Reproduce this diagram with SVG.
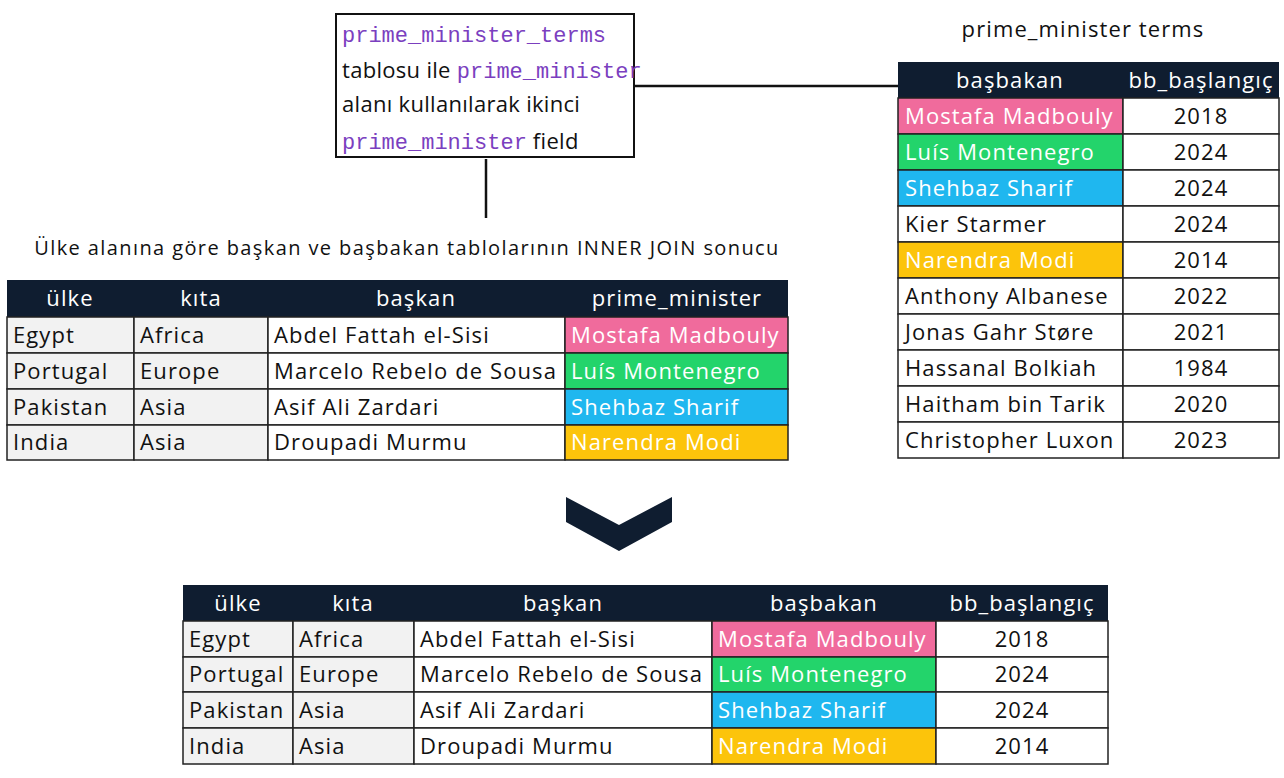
<svg xmlns="http://www.w3.org/2000/svg" width="1284" height="778" viewBox="0 0 1284 778">
<style>
text{font-family:"Open Sans","DejaVu Sans",sans-serif;font-size:22px;letter-spacing:1.1px;fill:#111}
.h{fill:#fff;text-anchor:middle}
.c{text-anchor:middle}
.w{fill:#fff}
.m{font-family:"Liberation Mono",monospace;fill:#7b3fbf;font-size:22px;letter-spacing:0}
.hd{fill:#0f1d30}
.cell{fill:#fff;stroke:#222;stroke-width:1.5}
.g{fill:#f2f2f2;stroke:#222;stroke-width:1.5}
.pk{fill:#f06b9c;stroke:#222;stroke-width:1.5}
.gr{fill:#23d46b;stroke:#222;stroke-width:1.5}
.bl{fill:#1fb7ef;stroke:#222;stroke-width:1.5}
.yl{fill:#fcc40b;stroke:#222;stroke-width:1.5}
</style>
<rect width="1284" height="778" fill="#fff"/>
<g id="connectors" stroke="#111" stroke-width="2.5">
<line x1="634" y1="86" x2="898" y2="86"/>
<line x1="486" y1="159" x2="486" y2="218"/>
</g>
<g id="note">
<rect x="336" y="14" width="298" height="143" fill="#fff" stroke="#111" stroke-width="2"/>
<text x="342" y="42" class="m">prime_minister_terms</text>
<text x="342" y="78" style="letter-spacing:0.3px">tablosu ile <tspan class="m">prime_minister</tspan></text>
<text x="342" y="112" style="letter-spacing:0.3px">alanı kullanılarak ikinci</text>
<text x="342" y="149" style="letter-spacing:0.3px"><tspan class="m">prime_minister</tspan> field</text>
</g>
<g id="left-table">
<text x="407" y="255" class="c" style="font-size:20px;letter-spacing:1.4px">Ülke alanına göre başkan ve başbakan tablolarının INNER JOIN sonucu</text>
<rect x="7" y="280" width="781" height="37" class="hd"/>
<text x="70" y="306" class="h">ülke</text><text x="201" y="306" class="h">kıta</text><text x="416" y="306" class="h">başkan</text><text x="677" y="306" class="h">prime_minister</text>
<g>
<rect x="7" y="317" width="127" height="36" class="g"/><rect x="134" y="317" width="134" height="36" class="g"/><rect x="268" y="317" width="297" height="36" class="cell"/><rect x="565" y="317" width="223" height="36" class="pk"/>
<rect x="7" y="353" width="127" height="36" class="g"/><rect x="134" y="353" width="134" height="36" class="g"/><rect x="268" y="353" width="297" height="36" class="cell"/><rect x="565" y="353" width="223" height="36" class="gr"/>
<rect x="7" y="389" width="127" height="36" class="g"/><rect x="134" y="389" width="134" height="36" class="g"/><rect x="268" y="389" width="297" height="36" class="cell"/><rect x="565" y="389" width="223" height="36" class="bl"/>
<rect x="7" y="425" width="127" height="35" class="g"/><rect x="134" y="425" width="134" height="35" class="g"/><rect x="268" y="425" width="297" height="35" class="cell"/><rect x="565" y="425" width="223" height="35" class="yl"/>
</g>
<text x="13" y="343">Egypt</text><text x="140" y="343">Africa</text><text x="274" y="343">Abdel Fattah el-Sisi</text><text x="571" y="343" class="w">Mostafa Madbouly</text>
<text x="13" y="379">Portugal</text><text x="140" y="379">Europe</text><text x="274" y="379">Marcelo Rebelo de Sousa</text><text x="571" y="379" class="w">Luís Montenegro</text>
<text x="13" y="415">Pakistan</text><text x="140" y="415">Asia</text><text x="274" y="415">Asif Ali Zardari</text><text x="571" y="415" class="w">Shehbaz Sharif</text>
<text x="13" y="450">India</text><text x="140" y="450">Asia</text><text x="274" y="450">Droupadi Murmu</text><text x="571" y="450" class="w">Narendra Modi</text>
</g>
<g id="right-table">
<text x="1083" y="37" class="c">prime_minister terms</text>
<rect x="898" y="62" width="381" height="36" class="hd"/>
<text x="1010" y="88" class="h">başbakan</text><text x="1201" y="88" class="h">bb_başlangıç</text>
<rect x="898" y="98" width="225" height="36" class="pk"/><rect x="1123" y="98" width="156" height="36" class="cell"/>
<rect x="898" y="134" width="225" height="36" class="gr"/><rect x="1123" y="134" width="156" height="36" class="cell"/>
<rect x="898" y="170" width="225" height="36" class="bl"/><rect x="1123" y="170" width="156" height="36" class="cell"/>
<rect x="898" y="206" width="225" height="36" class="cell"/><rect x="1123" y="206" width="156" height="36" class="cell"/>
<rect x="898" y="242" width="225" height="36" class="yl"/><rect x="1123" y="242" width="156" height="36" class="cell"/>
<rect x="898" y="278" width="225" height="36" class="cell"/><rect x="1123" y="278" width="156" height="36" class="cell"/>
<rect x="898" y="314" width="225" height="36" class="cell"/><rect x="1123" y="314" width="156" height="36" class="cell"/>
<rect x="898" y="350" width="225" height="36" class="cell"/><rect x="1123" y="350" width="156" height="36" class="cell"/>
<rect x="898" y="386" width="225" height="36" class="cell"/><rect x="1123" y="386" width="156" height="36" class="cell"/>
<rect x="898" y="422" width="225" height="36" class="cell"/><rect x="1123" y="422" width="156" height="36" class="cell"/>
<text x="905" y="124" class="w">Mostafa Madbouly</text><text x="1201" y="124" class="c">2018</text>
<text x="905" y="160" class="w">Luís Montenegro</text><text x="1201" y="160" class="c">2024</text>
<text x="905" y="196" class="w">Shehbaz Sharif</text><text x="1201" y="196" class="c">2024</text>
<text x="905" y="232">Kier Starmer</text><text x="1201" y="232" class="c">2024</text>
<text x="905" y="268" class="w">Narendra Modi</text><text x="1201" y="268" class="c">2014</text>
<text x="905" y="304">Anthony Albanese</text><text x="1201" y="304" class="c">2022</text>
<text x="905" y="340">Jonas Gahr Støre</text><text x="1201" y="340" class="c">2021</text>
<text x="905" y="376">Hassanal Bolkiah</text><text x="1201" y="376" class="c">1984</text>
<text x="905" y="412">Haitham bin Tarik</text><text x="1201" y="412" class="c">2020</text>
<text x="905" y="448">Christopher Luxon</text><text x="1201" y="448" class="c">2023</text>
</g>
<g id="chevron">
<polygon points="566,497 619,525 672,497 672,522 619,551 566,522" fill="#0f1d30"/>
</g>
<g id="result-table">
<rect x="183" y="585" width="925" height="36" class="hd"/>
<text x="238" y="611" class="h">ülke</text><text x="353" y="611" class="h">kıta</text><text x="563" y="611" class="h">başkan</text><text x="824" y="611" class="h">başbakan</text><text x="1022" y="611" class="h">bb_başlangıç</text>
<rect x="183" y="621" width="110" height="36" class="g"/><rect x="293" y="621" width="121" height="36" class="g"/><rect x="414" y="621" width="298" height="36" class="cell"/><rect x="712" y="621" width="224" height="36" class="pk"/><rect x="936" y="621" width="172" height="36" class="cell"/>
<rect x="183" y="657" width="110" height="35" class="g"/><rect x="293" y="657" width="121" height="35" class="g"/><rect x="414" y="657" width="298" height="35" class="cell"/><rect x="712" y="657" width="224" height="35" class="gr"/><rect x="936" y="657" width="172" height="35" class="cell"/>
<rect x="183" y="692" width="110" height="36" class="g"/><rect x="293" y="692" width="121" height="36" class="g"/><rect x="414" y="692" width="298" height="36" class="cell"/><rect x="712" y="692" width="224" height="36" class="bl"/><rect x="936" y="692" width="172" height="36" class="cell"/>
<rect x="183" y="728" width="110" height="36" class="g"/><rect x="293" y="728" width="121" height="36" class="g"/><rect x="414" y="728" width="298" height="36" class="cell"/><rect x="712" y="728" width="224" height="36" class="yl"/><rect x="936" y="728" width="172" height="36" class="cell"/>
<text x="189" y="647">Egypt</text><text x="299" y="647">Africa</text><text x="420" y="647">Abdel Fattah el-Sisi</text><text x="718" y="647" class="w">Mostafa Madbouly</text><text x="1022" y="647" class="c">2018</text>
<text x="189" y="682">Portugal</text><text x="299" y="682">Europe</text><text x="420" y="682">Marcelo Rebelo de Sousa</text><text x="718" y="682" class="w">Luís Montenegro</text><text x="1022" y="682" class="c">2024</text>
<text x="189" y="718">Pakistan</text><text x="299" y="718">Asia</text><text x="420" y="718">Asif Ali Zardari</text><text x="718" y="718" class="w">Shehbaz Sharif</text><text x="1022" y="718" class="c">2024</text>
<text x="189" y="754">India</text><text x="299" y="754">Asia</text><text x="420" y="754">Droupadi Murmu</text><text x="718" y="754" class="w">Narendra Modi</text><text x="1022" y="754" class="c">2014</text>
</g>
</svg>
